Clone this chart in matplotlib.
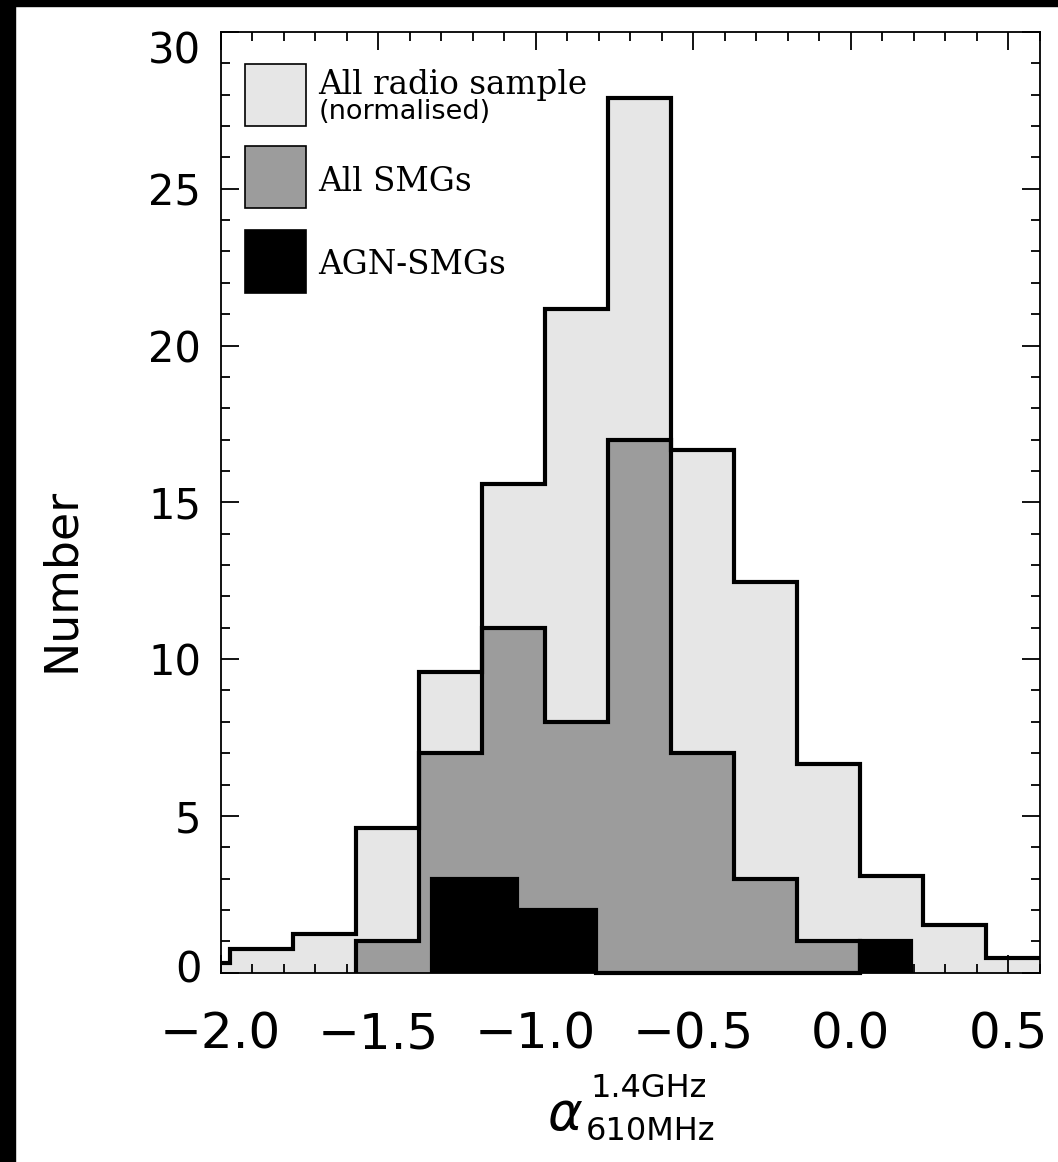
import numpy as np
import matplotlib
matplotlib.use("Agg")
from matplotlib import pyplot as plt
from matplotlib.patches import Rectangle
from matplotlib.transforms import ScaledTranslation

# spectral index histograms
light_edges = [-2.17, -1.97, -1.77, -1.57, -1.37, -1.17, -0.97, -0.77, -0.57, -0.37, -0.17, 0.03, 0.23, 0.43, 0.63]
light_vals = [0.3, 0.75, 1.22, 4.62, 9.6, 15.6, 21.16, 27.9, 16.67, 12.45, 6.67, 3.09, 1.52, 0.46]

smg_edges = [-1.57, -1.37, -1.17, -0.97, -0.77, -0.57, -0.37, -0.17, 0.03]
smg_vals = [1, 7, 11, 8, 17, 7, 3, 1]

agn_edges = [-1.33, -1.06, -0.81, 0.03, 0.19]
agn_vals = [3, 2, 0, 1]

legend_labels = ["All radio sample", "All SMGs", "AGN-SMGs"]
legend_sub = "(normalised)"
xticks = [-2.0, -1.5, -1.0, -0.5, 0.0, 0.5]
yticks = [0, 5, 10, 15, 20, 25, 30]

c_light = "#e6e6e6"
c_smg = "#9c9c9c"
c_agn = "black"
lw = 3.0

plt.rcParams["mathtext.fontset"] = "dejavusans"

fig = plt.figure(figsize=(10.58, 11.62), dpi=100)
# black frame bits on left and top edges of the original scan
fig.patches.append(Rectangle((0, 0), 15 / 1058, 1, transform=fig.transFigure, color="black", zorder=0))
fig.patches.append(Rectangle((0, 1 - 6 / 1162), 1, 6 / 1162, transform=fig.transFigure, color="black", zorder=0))

ax = fig.add_axes([0.2086, 0.1629, 0.7741, 0.8096])

# fills
ax.stairs(light_vals, light_edges, fill=True, color=c_light, linewidth=0, zorder=1)
ax.stairs(smg_vals, smg_edges, fill=True, color=c_smg, linewidth=0, zorder=2)
# outlines
st = ax.stairs(light_vals, light_edges, baseline=0, color="black", linewidth=lw, zorder=3)
st.set_joinstyle("miter")
st = ax.stairs(smg_vals, smg_edges, baseline=0, color="black", linewidth=lw, zorder=3)
st.set_joinstyle("miter")
ax.stairs(agn_vals, agn_edges, fill=True, color=c_agn, linewidth=0, zorder=4)
st = ax.stairs(agn_vals, agn_edges, baseline=0, color="black", linewidth=lw, zorder=4, clip_on=False)
st.set_joinstyle("miter")

ax.set_xlim(-2.0, 0.6)
ax.set_ylim(0, 30)
ax.set_xticks(xticks)
ax.set_xticklabels([f"{t:.1f}".replace("-", "\u2212") for t in xticks])
ax.set_xticks(np.arange(-2.0, 0.61, 0.1), minor=True)
ax.set_yticks(yticks)
ax.set_yticks(np.arange(0, 31, 1), minor=True)

ax.tick_params(which="both", direction="in", top=True, right=True, width=1.3, colors="black")
ax.tick_params(which="major", length=13)
ax.tick_params(which="minor", length=6.5)
ax.tick_params(axis="y", which="major", labelsize=30, pad=14)
ax.tick_params(axis="x", which="major", labelsize=36, pad=27)
for s in ax.spines.values():
    s.set_linewidth(1.3)

# end labels on the y axis sit inside the frame, as in the original
ylabs = ax.get_yticklabels()
ylabs[-1].set_transform(ylabs[-1].get_transform() + ScaledTranslation(0, -0.15, fig.dpi_scale_trans))
ylabs[0].set_transform(ylabs[0].get_transform() + ScaledTranslation(0, 0.07, fig.dpi_scale_trans))

# axis titles
ax.text(-0.194, 0.417, "Number", transform=ax.transAxes, fontsize=33,
        rotation=90, ha="center", va="center")
ax.text(0.398, -0.167, r"$\alpha$", transform=ax.transAxes, fontsize=38,
        ha="left", va="baseline")
ax.text(0.451, -0.132, "1.4GHz", transform=ax.transAxes, fontsize=23,
        ha="left", va="baseline")
ax.text(0.446, -0.178, "610MHz", transform=ax.transAxes, fontsize=23,
        ha="left", va="baseline")

# legend drawn by hand
sq_x, sq_w, sq_h = 0.0297, 0.0745, 0.066
sq_y = [0.900, 0.813, 0.723]
for y0, fc in zip(sq_y, [c_light, c_smg, c_agn]):
    ax.add_patch(Rectangle((sq_x, y0), sq_w, sq_h, transform=ax.transAxes,
                           facecolor=fc, edgecolor="black", linewidth=1.2, zorder=6))
txt_x = 0.119
txt_y = [0.934, 0.831, 0.743]
for y0, lab in zip(txt_y, legend_labels):
    ax.text(txt_x, y0, lab, transform=ax.transAxes, fontsize=23.5, family="DejaVu Serif",
            va="baseline", ha="left", zorder=6)
ax.text(txt_x, 0.908, legend_sub, transform=ax.transAxes, fontsize=19.5, family="DejaVu Sans",
        va="baseline", ha="left", zorder=6)

fig.savefig("out.png", dpi=100)
